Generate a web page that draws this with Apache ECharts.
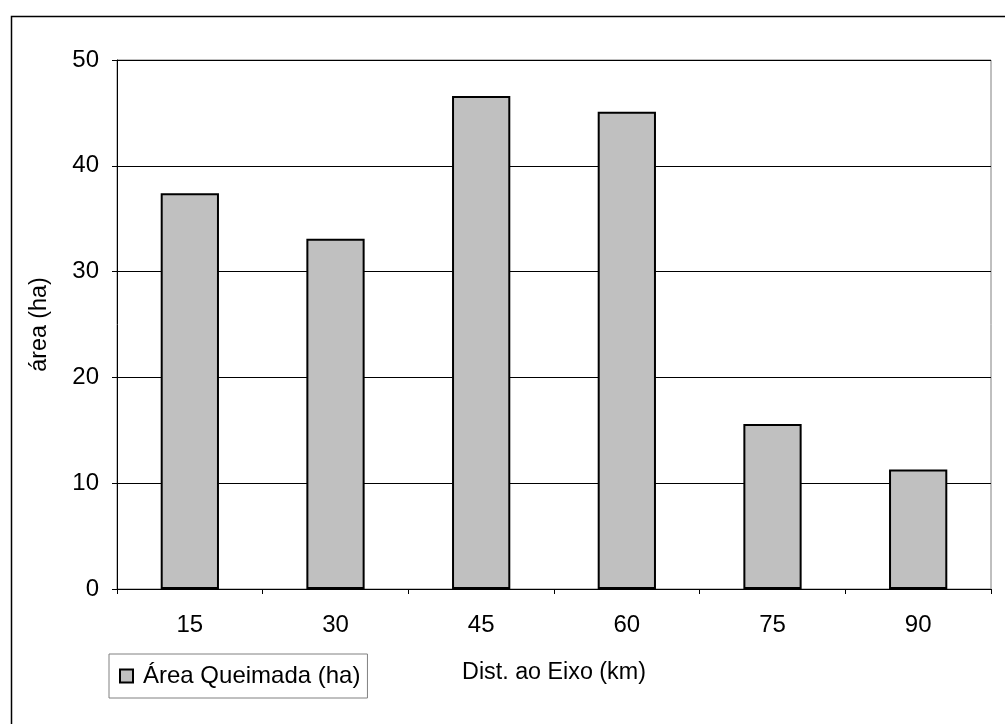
<!DOCTYPE html>
<html>
<head>
<meta charset="utf-8">
<script src="https://cdn.jsdelivr.net/npm/echarts@6/dist/echarts.min.js"></script>
<style>
html,body{margin:0;padding:0;background:#fff;}
#c{width:1005px;height:724px;}
</style>
</head>
<body>
<div id="c"></div>
<script>
const categories = ['15', '30', '45', '60', '75', '90'];
const areaQueimada = [37.4, 33.1, 46.6, 45.1, 15.6, 11.3];
const seriesName = 'Área Queimada (ha)';
const xAxisName = 'Dist. ao Eixo (km)';
const yAxisName = 'área (ha)';
const yMin = 0, yMax = 50, yInterval = 10;

const font = 'Liberation Sans, Arial, sans-serif';
const chart = echarts.init(document.getElementById('c'), null, {renderer: 'canvas'});
chart.setOption({
  backgroundColor: '#ffffff',
  animation: false,
  textStyle: {fontFamily: font, color: '#000'},
  graphic: [{
    type: 'rect', left: 9, top: 14, silent: true,
    shape: {x: 0, y: 0, width: 1100, height: 800},
    style: {fill: null, stroke: '#000', lineWidth: 1.5}
  }],
  grid: {left: 117, right: 14, top: 60, bottom: 135, show: true, borderColor: '#808080', borderWidth: 1},
  legend: {
    show: true, left: 109, top: 654,
    data: [seriesName],
    icon: 'rect', itemWidth: 13, itemHeight: 13,
    padding: [10, 7, 10, 10],
    borderColor: '#808080', borderWidth: 1,
    textStyle: {fontSize: 24, fontFamily: font, color: '#000', padding: [0, 0, 0, 5]}
  },
  xAxis: {
    type: 'category', data: categories,
    name: xAxisName, nameLocation: 'middle', nameGap: 72,
    nameTextStyle: {fontSize: 23.3, fontFamily: font, color: '#000'},
    axisLine: {lineStyle: {color: '#000', width: 1}},
    axisTick: {show: true, length: 5, lineStyle: {color: '#000'}},
    axisLabel: {fontSize: 24, fontFamily: font, color: '#000', margin: 24},
    splitLine: {show: false}
  },
  yAxis: {
    type: 'value', min: yMin, max: yMax, interval: yInterval,
    name: yAxisName, nameLocation: 'middle', nameGap: 66, nameRotate: 90,
    nameTextStyle: {fontSize: 23.3, fontFamily: font, color: '#000'},
    axisLine: {show: true, lineStyle: {color: '#000', width: 1}},
    axisTick: {show: true, length: 5, lineStyle: {color: '#000'}},
    axisLabel: {fontSize: 24, fontFamily: font, color: '#000', margin: 18},
    splitLine: {show: true, lineStyle: {color: '#000', width: 1}}
  },
  series: [{
    name: seriesName, type: 'bar', data: areaQueimada,
    barCategoryGap: '60%',
    itemStyle: {color: '#c0c0c0', borderColor: '#000', borderWidth: 2}
  }]
});
</script>
</body>
</html>
